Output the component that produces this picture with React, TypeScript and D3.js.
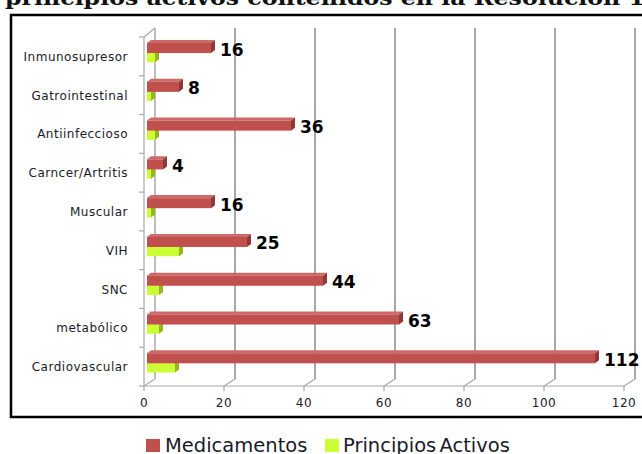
import * as d3 from "d3";

// categories from top to bottom
const categories = [
  "Inmunosupresor",
  "Gatrointestinal",
  "Antiinfeccioso",
  "Carncer/Artritis",
  "Muscular",
  "VIH",
  "SNC",
  "metabólico",
  "Cardiovascular",
];
const medicamentos = [16, 8, 36, 4, 16, 25, 44, 63, 112];
const principiosActivos = [2, 1, 2, 1, 1, 8, 3, 3, 7];
const xTicks = [0, 20, 40, 60, 80, 100, 120];
const seriesNames = ["Medicamentos", "Principios Activos"];
const title = "principios activos contenidos en la Resolución 1";

const W = 642;
const H = 454;
// 3d depth offset of the back wall
const DX = 11;
const DY = -7;
// bar depth
const BX = 4;
const BY = -3;

const RED = { front: "#c0504d", top: "#cd6a67", side: "#8e3937" };
const GREEN = { front: "#ccff33", top: "#e0ff80", side: "#93b81a" };

export default function App() {
  const x = d3.scaleLinear().domain([0, 120]).range([144, 624]);
  const y = d3.scaleBand<string>().domain(categories).range([37, 386]);
  const bw = y.bandwidth();
  const floorY = 386;
  const topY = 37;

  const bar = (v: number, yy: number, h: number, c: typeof RED, key: string) => {
    const x0 = x(0) + 3;
    const x1 = x0 + (x(v) - x(0));
    return (
      <g key={key}>
        <polygon
          points={`${x0},${yy} ${x0 + BX},${yy + BY} ${x1 + BX},${yy + BY} ${x1},${yy}`}
          fill={c.top}
        />
        <rect x={x0} y={yy} width={x1 - x0} height={h} fill={c.front} />
        <polygon
          points={`${x1},${yy} ${x1 + BX},${yy + BY} ${x1 + BX},${yy + h + BY} ${x1},${yy + h}`}
          fill={c.side}
        />
      </g>
    );
  };

  return (
    <svg
      width={W}
      height={H}
      style={{ position: "absolute", left: 0, top: 0, background: "#fff" }}
      fontFamily="DejaVu Sans"
    >
      <text
        x={5}
        y={5}
        fontFamily="DejaVu Serif"
        fontWeight="bold"
        fontSize={21}
        textLength={640}
        lengthAdjust="spacingAndGlyphs"
        fill="#111"
      >
        {title}
      </text>
      <rect x={11} y={15} width={680} height={402} fill="#fff" stroke="#000" strokeWidth={2.5} />

      {/* back wall gridlines */}
      {xTicks.map((t) => (
        <line
          key={"g" + t}
          x1={x(t) + DX}
          x2={x(t) + DX}
          y1={topY + DY - 2}
          y2={floorY + DY}
          stroke="#a8a8a8"
          strokeWidth={t === 0 ? 1.5 : 2}
        />
      ))}
      {/* left wall */}
      <line x1={x(0)} x2={x(0)} y1={topY} y2={floorY} stroke="#a8a8a8" strokeWidth={1.2} />
      <line x1={x(0)} x2={x(0) + DX} y1={topY} y2={topY + DY - 2} stroke="#a8a8a8" strokeWidth={1.2} />
      {categories.map((c) => (
        <line key={"lt" + c} x1={x(0) - 5} x2={x(0)} y1={y(c)!} y2={y(c)!} stroke="#a8a8a8" strokeWidth={1.2} />
      ))}
      <line x1={x(0) - 5} x2={x(0)} y1={floorY} y2={floorY} stroke="#a8a8a8" strokeWidth={1.2} />
      {/* floor */}
      <line x1={x(0)} x2={x(120)} y1={floorY} y2={floorY} stroke="#a8a8a8" strokeWidth={1.2} />
      {xTicks.map((t) => (
        <g key={"ft" + t}>
          <line x1={x(t)} x2={x(t) + DX} y1={floorY} y2={floorY + DY} stroke="#a8a8a8" strokeWidth={1.2} />
          <line x1={x(t)} x2={x(t)} y1={floorY} y2={floorY + 5} stroke="#a8a8a8" strokeWidth={1.2} />
          <text x={x(t)} y={407} textAnchor="middle" fontSize={12} letterSpacing={0.6} fill="#1a1a2a">
            {t}
          </text>
        </g>
      ))}

      {/* bars */}
      {categories.map((c, i) => {
        const b = y(c)!;
        return (
          <g key={"b" + c}>
            {bar(principiosActivos[i], b + 16, bw * 0.24, GREEN, "pa")}
            {bar(medicamentos[i], b + 6, bw * 0.26, RED, "me")}
          </g>
        );
      })}

      {/* value labels */}
      {categories.map((c, i) => (
        <text
          key={"v" + c}
          x={x(0) + 3 + (x(medicamentos[i]) - x(0)) + BX + 5}
          y={y(c)! + 18.5}
          fontSize={17}
          fontWeight="bold"
          fill="#000"
        >
          {medicamentos[i]}
        </text>
      ))}

      {/* category labels */}
      {categories.map((c) => (
        <text
          key={"c" + c}
          x={128}
          y={y(c)! + bw / 2 + 4.5}
          textAnchor="end"
          fontSize={12}
          letterSpacing={0.5}
          fill="#1a1a2a"
        >
          {c}
        </text>
      ))}

      {/* legend */}
      <rect x={146} y={439} width={14} height={13} fill={RED.front} />
      <text x={165} y={452} fontSize={19.5} fill="#1a1a2a">
        {seriesNames[0]}
      </text>
      <rect x={325} y={439} width={14} height={13} fill={GREEN.front} />
      <text x={343} y={452} fontSize={19.5} fill="#1a1a2a" wordSpacing={-3}>
        {seriesNames[1]}
      </text>
    </svg>
  );
}
